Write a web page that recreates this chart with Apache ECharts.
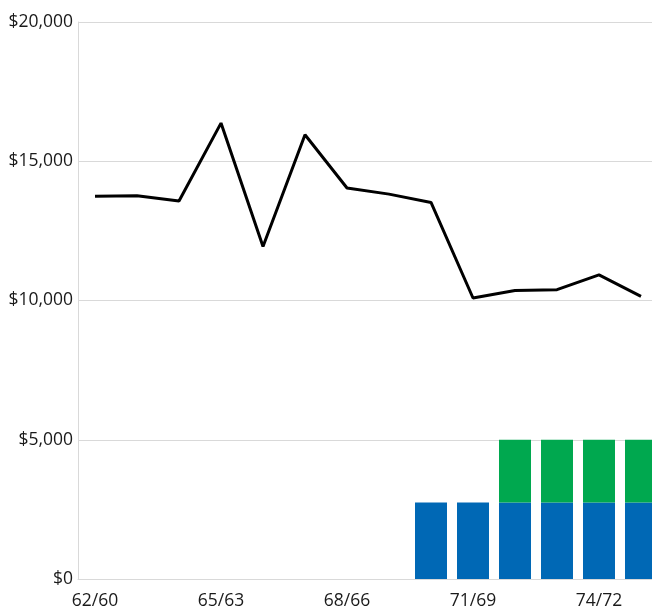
<!DOCTYPE html>
<html>
<head>
<meta charset="utf-8">
<style>
  html, body { margin: 0; padding: 0; background: #fff; }
  #chart { width: 652px; height: 615px; }
</style>
<script src="https://cdn.jsdelivr.net/npm/echarts@6/dist/echarts.min.js"></script>
</head>
<body>
<div id="chart"></div>
<script>
// Fiscal years (label format: year/base year)
const categories = ['62/60', '63/61', '64/62', '65/63', '66/64', '67/65', '68/66',
                    '69/67', '70/68', '71/69', '72/70', '73/71', '74/72', '75/73'];
// Line series (dollars)
const lineValues = [13740, 13760, 13570, 16370, 11940, 15950, 14040,
                    13820, 13520, 10090, 10360, 10390, 10920, 10150];
// Stacked bars: lower (blue) and upper (green) segments, null where absent
const blueValues = [null, null, null, null, null, null, null, null,
                    2750, 2750, 2750, 2750, 2750, 2750];
const greenValues = [null, null, null, null, null, null, null, null,
                     null, null, 2250, 2250, 2250, 2250];
// Categories that carry an axis label
const labelledIndices = [0, 3, 6, 9, 12];

// Points are stored as [value, categoryIndex] so the value dimension comes
// first and is the one that gets stacked.
const toPoints = arr => arr.map((v, i) => [v, i]);
const font = '"Open Sans", "Noto Sans", sans-serif';

const chart = echarts.init(document.getElementById('chart'));
chart.setOption({
  animation: false,
  backgroundColor: '#ffffff',
  grid: { left: 78, right: 0, top: 22, bottom: 36, containLabel: false },
  xAxis: {
    type: 'value',
    min: -0.405,
    max: 13.262,
    splitLine: { show: false },
    axisLine: { show: true, lineStyle: { color: '#d9d9d9', width: 1 } },
    axisTick: { show: false },
    axisLabel: {
      customValues: labelledIndices,
      formatter: v => categories[Math.round(v)] || '',
      color: '#1a1a1a',
      fontFamily: font,
      fontSize: 17.5,
      margin: 13
    }
  },
  yAxis: {
    type: 'value',
    min: 0,
    max: 20000,
    interval: 5000,
    axisLine: { show: true, onZero: false, lineStyle: { color: '#d9d9d9', width: 1 } },
    axisTick: { show: false },
    splitLine: { show: true, lineStyle: { color: '#d9d9d9', width: 1 } },
    axisLabel: {
      formatter: v => '$' + v.toLocaleString('en-US'),
      color: '#1a1a1a',
      fontFamily: font,
      fontSize: 17.5,
      margin: 5
    }
  },
  series: [
    {
      type: 'bar',
      stack: 'total',
      data: toPoints(blueValues),
      encode: { x: 1, y: 0 },
      barWidth: 32,
      itemStyle: { color: '#0068b5' }
    },
    {
      type: 'bar',
      stack: 'total',
      data: toPoints(greenValues),
      encode: { x: 1, y: 0 },
      barWidth: 32,
      itemStyle: { color: '#00a84f' }
    },
    {
      type: 'line',
      data: toPoints(lineValues),
      encode: { x: 1, y: 0 },
      symbol: 'none',
      lineStyle: { color: '#000000', width: 3 },
      z: 5
    }
  ]
});
</script>
</body>
</html>
